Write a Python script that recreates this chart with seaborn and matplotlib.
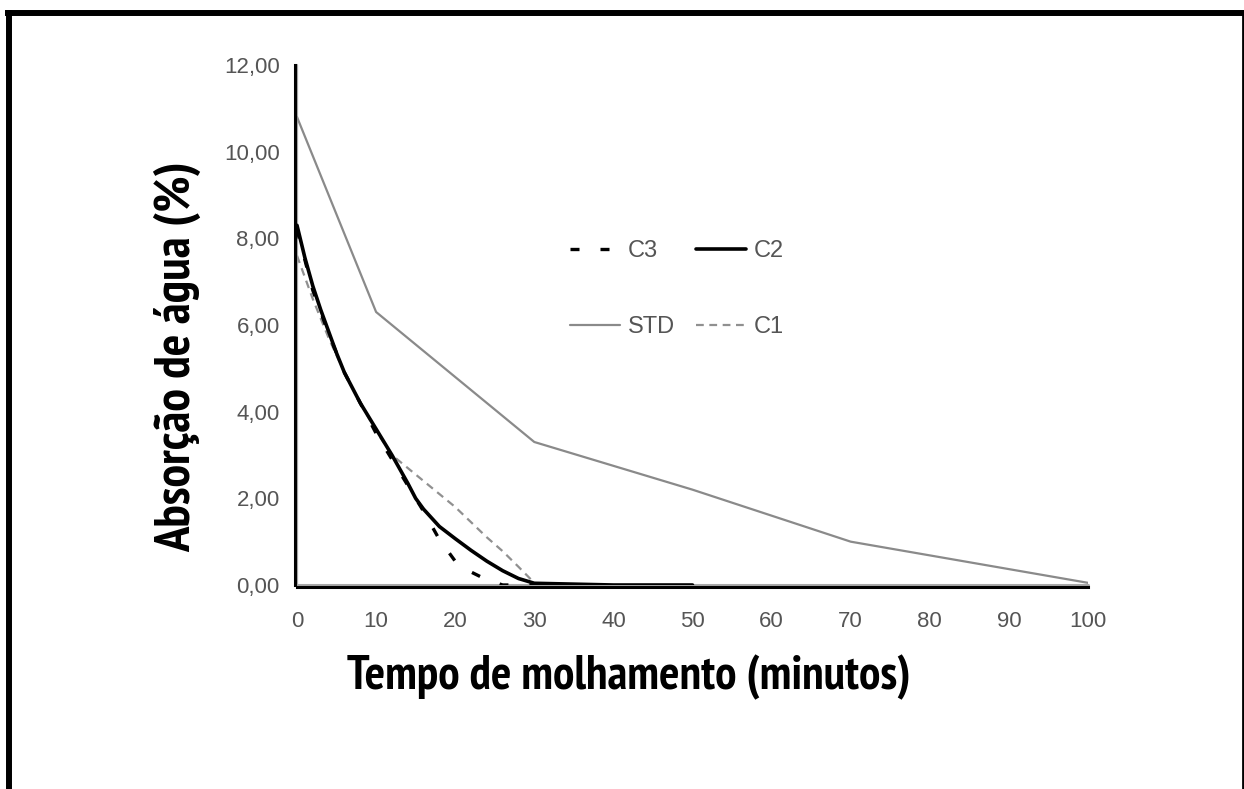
import matplotlib
matplotlib.use("Agg")
import matplotlib.pyplot as plt
import seaborn as sns
import pandas as pd
from matplotlib import font_manager
from matplotlib.font_manager import FontProperties
from matplotlib.lines import Line2D

# --- dados ---
t_std = [0, 10, 30, 50, 70, 100]
abs_std = [10.8, 6.3, 3.3, 2.2, 1.0, 0.05]

t_c1 = [0, 2, 4, 6, 8, 10, 12, 14, 16, 18, 20, 22, 24, 26, 28, 30]
abs_c1 = [7.6, 6.6, 5.7, 4.9, 4.2, 3.55, 3.0, 2.7, 2.4, 2.1, 1.8, 1.45, 1.1, 0.78, 0.42, 0.05]

t_c2 = [0, 1, 2, 3, 4, 5, 6, 7, 8, 10, 12, 14, 15, 16, 18, 20, 22, 24, 26, 28, 30, 40, 50]
abs_c2 = [8.3, 7.55, 6.9, 6.35, 5.85, 5.35, 4.9, 4.55, 4.2, 3.6, 3.0, 2.35, 2.0, 1.75, 1.35,
          1.07, 0.8, 0.55, 0.33, 0.15, 0.04, 0.0, 0.0]

t_c3 = [0, 2, 4, 6, 8, 10, 12, 14, 16, 18, 20, 22, 24, 26, 30]
abs_c3 = [8.2, 6.8, 5.8, 4.9, 4.2, 3.5, 2.9, 2.3, 1.7, 1.05, 0.55, 0.3, 0.12, 0.0, 0.0]

xticks = list(range(0, 101, 10))
yticks = [0, 2, 4, 6, 8, 10, 12]
ytick_labels = ["0,00", "2,00", "4,00", "6,00", "8,00", "10,00", "12,00"]

sns.set_style("white")
plt.rcParams["font.family"] = ["Liberation Sans", "DejaVu Sans"]

# procura uma fonte estreita e negrito para os rótulos
fonte_rotulo = FontProperties(family="DejaVu Sans", weight="bold")
candidatas = []
for f in font_manager.fontManager.ttflist:
    nome = f.fname.lower()
    if ("condensed" in nome or "narrow" in nome) and "bold" in nome and "oblique" not in nome \
            and "italic" not in nome:
        candidatas.append(f.fname)
if candidatas:
    candidatas.sort(key=lambda s: ("narrow" not in s.lower(), "extra" in s.lower(), s))
    fonte_rotulo = FontProperties(fname=candidatas[0])

W, H = 1244, 789
fig = plt.figure(figsize=(W / 100, H / 100), dpi=100)
fig.patch.set_facecolor("white")
ax = fig.add_axes([297 / W, 1 - 585 / H, (1088 - 297) / W, (585 - 65) / H])
ax.set_facecolor("white")

df_std = pd.DataFrame({"t": t_std, "a": abs_std})
df_c1 = pd.DataFrame({"t": t_c1, "a": abs_c1})
df_c2 = pd.DataFrame({"t": t_c2, "a": abs_c2})
df_c3 = pd.DataFrame({"t": t_c3, "a": abs_c3})

# eixos: linha cinza em zero, spine preta logo ao lado
ax.axhline(0, color="#a8a8a8", lw=2.2, zorder=1, clip_on=False)
ax.axvline(0, color="#a8a8a8", lw=1.6, zorder=1, clip_on=False)

sns.lineplot(data=df_std, x="t", y="a", ax=ax, color="#8a8a8a", lw=1.6, label="STD", zorder=3)
sns.lineplot(data=df_c1, x="t", y="a", ax=ax, color="#909090", lw=1.6,
             linestyle=(0, (3.5, 2.5)), label="C1", zorder=3)
sns.lineplot(data=df_c2, x="t", y="a", ax=ax, color="black", lw=2.6, label="C2", zorder=4)
sns.lineplot(data=df_c3, x="t", y="a", ax=ax, color="black", lw=2.4,
             linestyle=(0, (2.7, 6.3)), label="C3", zorder=5)

ax.set_xlim(0, 100)
ax.set_ylim(0, 12)
ax.set_xticks(xticks)
ax.set_xticklabels([str(v) for v in xticks])
ax.set_yticks(yticks)
ax.set_yticklabels(ytick_labels)
ax.tick_params(axis="both", direction="out", length=4, width=1.5, color="#b0b0b0",
               labelcolor="#555555", labelsize=16, pad=7)
ax.tick_params(axis="x", pad=13)

for lado in ["top", "right"]:
    ax.spines[lado].set_visible(False)
for lado in ["left", "bottom"]:
    ax.spines[lado].set_color("black")
    ax.spines[lado].set_linewidth(2.2)
    ax.spines[lado].set_position(("outward", 1.5))

ax.set_xlabel("")
ax.set_ylabel("")

# legenda em duas colunas
linhas = {l.get_label(): l for l in ax.get_lines()}
ordem = ["C3", "STD", "C2", "C1"]
leg = ax.legend([linhas[k] for k in ordem], ordem, ncol=2, frameon=False,
                loc="upper left", bbox_to_anchor=((570 - 297) / (1088 - 297), (585 - 240) / 520),
                fontsize=17, handlelength=2.1, handletextpad=0.35, columnspacing=0.9,
                labelspacing=2.3, borderaxespad=0, borderpad=0)
for txt in leg.get_texts():
    txt.set_color("#555555")

# rótulos dos eixos (tamanho ajustado ao original)
xl = fig.text(629 / W, 1 - 677 / H, "Tempo de molhamento (minutos)", ha="center", va="center",
              fontproperties=fonte_rotulo, color="black")
yl = fig.text(178 / W, 1 - 357 / H, "Absorção de água (%)", ha="center", va="center",
              rotation=90, fontproperties=fonte_rotulo, color="black")
xl.set_fontsize(30)
yl.set_fontsize(30)
fig.canvas.draw()
r = fig.canvas.get_renderer()
larg = xl.get_window_extent(r).width
xl.set_fontsize(30 * 562 / larg)
alt = yl.get_window_extent(r).height
yl.set_fontsize(30 * 391 / alt)

# moldura preta da figura
fig.add_artist(Line2D([5 / W, 1], [1 - 13 / H, 1 - 13 / H], color="black", lw=4.3,
                      solid_capstyle="butt", transform=fig.transFigure))
fig.add_artist(Line2D([8.5 / W, 8.5 / W], [0, 1 - 10 / H], color="black", lw=4.3,
                      solid_capstyle="butt", transform=fig.transFigure))
fig.add_artist(Line2D([1242.5 / W, 1242.5 / W], [0, 1 - 10 / H], color="black", lw=2,
                      solid_capstyle="butt", transform=fig.transFigure))

fig.savefig("out.png", dpi=100, facecolor="white")
